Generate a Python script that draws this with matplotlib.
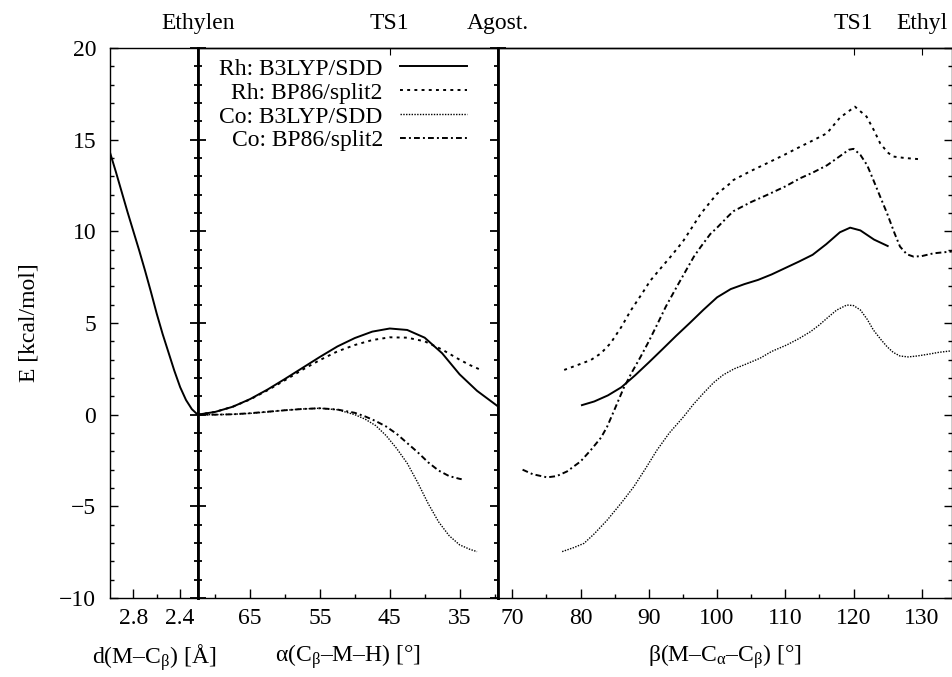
import matplotlib
matplotlib.use("Agg")
import matplotlib.pyplot as plt
from matplotlib.ticker import MultipleLocator, FixedLocator

plt.rcParams['font.family'] = ['Liberation Serif', 'DejaVu Serif']
plt.rcParams['mathtext.fontset'] = 'custom'
plt.rcParams['mathtext.rm'] = 'Liberation Serif'
plt.rcParams['mathtext.it'] = 'Liberation Serif:italic'
plt.rcParams['font.size'] = 17

# ---- panel 1: d(M-Cb) scan (Rh B3LYP only)
d_rh_b3 = [3.0, 2.95, 2.9, 2.85, 2.8, 2.75, 2.7, 2.65, 2.6, 2.55, 2.5, 2.45, 2.4, 2.35, 2.3, 2.25]
e_d_rh_b3 = [14.3, 13.25, 12.15, 11.05, 10.0, 8.95, 7.85, 6.7, 5.5, 4.4, 3.4, 2.4, 1.5, 0.8, 0.3, 0.0]

# ---- panel 2: alpha(Cb-M-H) scan
a_rh_b3 = [72.5, 70, 67.5, 65, 62.5, 60, 57.5, 55, 52.5, 50, 47.5, 45, 42.5, 40, 37.5, 35, 32.5, 29.5]
e_a_rh_b3 = [0.0, 0.15, 0.43, 0.85, 1.37, 1.95, 2.55, 3.15, 3.72, 4.18, 4.53, 4.7, 4.62, 4.2, 3.35, 2.2, 1.3, 0.45]

a_rh_bp = [72.5, 70, 67.5, 65, 62.5, 60, 57.5, 55, 52.5, 50, 47.5, 45, 42.5, 40, 37.5, 35, 33.5, 32]
e_a_rh_bp = [0.0, 0.15, 0.43, 0.83, 1.33, 1.88, 2.45, 2.98, 3.45, 3.8, 4.07, 4.22, 4.2, 4.0, 3.55, 3.0, 2.7, 2.45]

a_co_b3 = [72.5, 70, 67.5, 65, 62.5, 60, 57.5, 55, 52.5, 50, 48.5, 47, 45.5, 44, 42.5, 41, 39.5, 38, 36.5, 35, 33.5, 32.5]
e_a_co_b3 = [0.0, 0.0, 0.02, 0.07, 0.15, 0.24, 0.31, 0.35, 0.27, 0.0, -0.25, -0.6, -1.15, -1.85, -2.65, -3.7, -4.85, -5.85, -6.6, -7.1, -7.35, -7.47]

a_co_bp = [72.5, 70, 67.5, 65, 62.5, 60, 57.5, 55, 52.5, 50, 48.5, 47, 45.5, 44, 42.5, 41, 39.5, 38, 36.5, 35, 34.7]
e_a_co_bp = [0.0, 0.0, 0.02, 0.08, 0.16, 0.24, 0.31, 0.35, 0.28, 0.1, -0.1, -0.35, -0.65, -1.05, -1.55, -2.05, -2.6, -3.05, -3.35, -3.5, -3.52]

# ---- panel 3: beta(M-Ca-Cb) scan
b_rh_b3 = [80.2, 82, 84, 86, 88, 90, 92, 94, 96, 98, 100, 102, 104, 106, 108, 110, 112, 114, 116, 118, 119.5, 121, 123, 125]
e_b_rh_b3 = [0.52, 0.72, 1.05, 1.5, 2.15, 2.85, 3.57, 4.3, 5.0, 5.72, 6.4, 6.85, 7.12, 7.35, 7.65, 8.0, 8.35, 8.72, 9.3, 9.95, 10.2, 10.05, 9.55, 9.2]

b_rh_bp = [77.6, 79.5, 81.5, 83, 84.4, 86, 87.3, 89, 90.2, 92, 93.2, 95, 96.1, 97.6, 99, 100, 101.7, 102.4, 105, 107.3, 110, 112.2, 114,
           116.1, 118, 120.2, 121.9, 123, 123.9, 125, 125.8, 127.5, 129.8]
e_b_rh_bp = [2.44, 2.7, 2.98, 3.35, 3.9, 4.8, 5.65, 6.6, 7.3, 8.1, 8.62, 9.45, 10.08, 10.95, 11.6, 12.05, 12.55, 12.8, 13.3, 13.71, 14.2, 14.62, 14.95,
             15.35, 16.2, 16.8, 16.26, 15.5, 14.8, 14.3, 14.08, 14.0, 13.93]

b_co_b3 = [77.3, 79, 80.5, 82, 83.9, 86, 87.8, 89.5, 91.2, 93, 95.1, 96.5, 98, 99.5, 100.9, 102.5, 104, 106.3, 108, 110.2, 112, 113.7, 115,
           116.1, 117.5, 119, 120, 121, 122, 122.9, 124, 124.9, 125.8, 126.8, 128, 129.3, 131, 132.5, 134.3]
e_b_co_b3 = [-7.47, -7.25, -7.02, -6.5, -5.75, -4.8, -3.93, -2.95, -1.93, -1.0, -0.11, 0.55, 1.17, 1.75, 2.17, 2.5, 2.72, 3.08, 3.45, 3.8, 4.15, 4.53, 4.9,
             5.26, 5.7, 5.98, 5.95, 5.71, 5.2, 4.62, 4.1, 3.71, 3.4, 3.2, 3.15, 3.2, 3.3, 3.4, 3.48]

b_co_bp = [71.5, 73, 75.1, 76.5, 78, 80, 81.5, 83, 83.9, 85, 86.3, 87.5, 88.8, 90, 91.2, 92.5, 94.1, 95.5, 96.6, 97.6, 99, 100, 101.7, 102.4,
           105, 107.3, 110, 112.2, 114, 116.1, 118, 119.3, 120, 121, 122, 122.9, 124, 124.9, 126, 126.8, 127.8, 128.8, 130, 131.7, 133, 134.4]
e_b_co_bp = [-3.0, -3.25, -3.42, -3.35, -3.1, -2.55, -1.93, -1.25, -0.65, 0.3, 1.44, 2.3, 3.16, 4.0, 4.9, 5.9, 6.98, 7.9, 8.62, 9.15, 9.85, 10.2, 10.85, 11.1,
             11.6, 11.98, 12.45, 12.9, 13.2, 13.6, 14.1, 14.45, 14.5, 14.17, 13.6, 12.8, 11.8, 10.99, 9.9, 9.17, 8.75, 8.62, 8.65, 8.8, 8.85, 8.9]

labels = ['Rh: B3LYP/SDD', 'Rh: BP86/split2', 'Co: B3LYP/SDD', 'Co: BP86/split2']
styles = [dict(color='black', lw=1.4, ls='-'),
          dict(color='black', lw=1.4, ls=(0, (1.5, 2.2))),
          dict(color='black', lw=1.0, ls=(0, (1.0, 1.0))),
          dict(color='black', lw=1.4, ls=(0, (3.0, 1.6, 1.0, 1.6)))]

W, H = 953, 677
fig = plt.figure(figsize=(W / 100, H / 100), dpi=100)
top, bot = 48, 598
xs = [110, 197.7, 498, 951.5]
axes = []
for i in range(3):
    ax = fig.add_axes([xs[i] / W, 1 - bot / H, (xs[i + 1] - xs[i]) / W, (bot - top) / H])
    ax.set_ylim(-10, 20)
    axes.append(ax)
ax1, ax2, ax3 = axes

ax1.plot(d_rh_b3, e_d_rh_b3, **styles[0])
ax2.plot(a_rh_b3, e_a_rh_b3, label=labels[0], **styles[0])
ax2.plot(a_rh_bp, e_a_rh_bp, label=labels[1], **styles[1])
ax2.plot(a_co_b3, e_a_co_b3, label=labels[2], **styles[2])
ax2.plot(a_co_bp, e_a_co_bp, label=labels[3], **styles[3])
ax3.plot(b_rh_b3, e_b_rh_b3, **styles[0])
ax3.plot(b_rh_bp, e_b_rh_bp, **styles[1])
ax3.plot(b_co_b3, e_b_co_b3, **styles[2])
ax3.plot(b_co_bp, e_b_co_bp, **styles[3])

ax1.set_xlim(3.0, 2.25)
ax2.set_xlim(72.5, 29.5)
ax3.set_xlim(67.9, 134.35)

ax1.xaxis.set_major_locator(FixedLocator([2.8, 2.4]))
ax1.xaxis.set_minor_locator(FixedLocator([2.6]))
ax2.xaxis.set_major_locator(FixedLocator([65, 55, 45, 35]))
ax2.xaxis.set_minor_locator(FixedLocator([70, 60, 50, 40, 30]))
ax3.xaxis.set_major_locator(MultipleLocator(10))
ax3.xaxis.set_minor_locator(MultipleLocator(5))

for ax in axes:
    ax.yaxis.set_major_locator(MultipleLocator(5))
    ax.yaxis.set_minor_locator(MultipleLocator(1))
    ax.tick_params(axis='x', which='major', direction='in', length=6.5, width=1, top=False, pad=7)
    ax.tick_params(axis='x', which='minor', direction='in', length=3, width=1, top=False)
    for s in ax.spines.values():
        s.set_linewidth(1.0)

# y ticks: outer left in, panel boundaries in-out (drawn by ax2), right edge in
ax1.tick_params(axis='y', which='major', direction='in', length=6, width=1, pad=10, right=False)
ax1.tick_params(axis='y', which='minor', direction='in', length=3, width=1, right=False)
ax2.tick_params(axis='y', which='major', direction='inout', length=12, width=1.3,
                left=True, right=True, labelleft=False)
ax2.tick_params(axis='y', which='minor', direction='inout', length=6, width=1.3, left=True, right=True)
ax3.tick_params(axis='y', which='major', direction='in', length=6, width=1,
                left=False, right=True, labelleft=False)
ax3.tick_params(axis='y', which='minor', direction='in', length=3, width=1, left=False, right=True)
ax1.spines['right'].set_linewidth(2)
ax2.spines['left'].set_linewidth(2)
ax2.spines['right'].set_linewidth(2)
ax3.spines['left'].set_linewidth(2)

# top labels
sec2 = ax2.secondary_xaxis('top')
sec2.set_xticks([72.5, 45, 29.5], ['Ethylen', 'TS1', 'Agost.'])
sec2.tick_params(direction='in', length=5, pad=10)
sec3 = ax3.secondary_xaxis('top')
sec3.set_xticks([120, 130], ['TS1', 'Ethyl'])
sec3.tick_params(direction='in', length=5, pad=10)
for s in (sec2, sec3):
    s.spines['top'].set_linewidth(1.0)

ax1.set_xlabel('d(M–C$_{\\mathrm{β}}$) [Å]', labelpad=10)
ax2.set_xlabel('α(C$_{\\mathrm{β}}$–M–H) [°]', labelpad=10)
ax3.set_xlabel('β(M–C$_{\\mathrm{α}}$–C$_{\\mathrm{β}}$) [°]', labelpad=10)
ax1.set_ylabel('E [kcal/mol]', labelpad=14)

ax2.legend(loc='upper right', bbox_to_anchor=(0.913, 0.99), markerfirst=False, frameon=False,
           handlelength=2.85, handletextpad=0.72, labelspacing=0.1, borderaxespad=0, borderpad=0.2)

fig.savefig('out.png', dpi=100)
